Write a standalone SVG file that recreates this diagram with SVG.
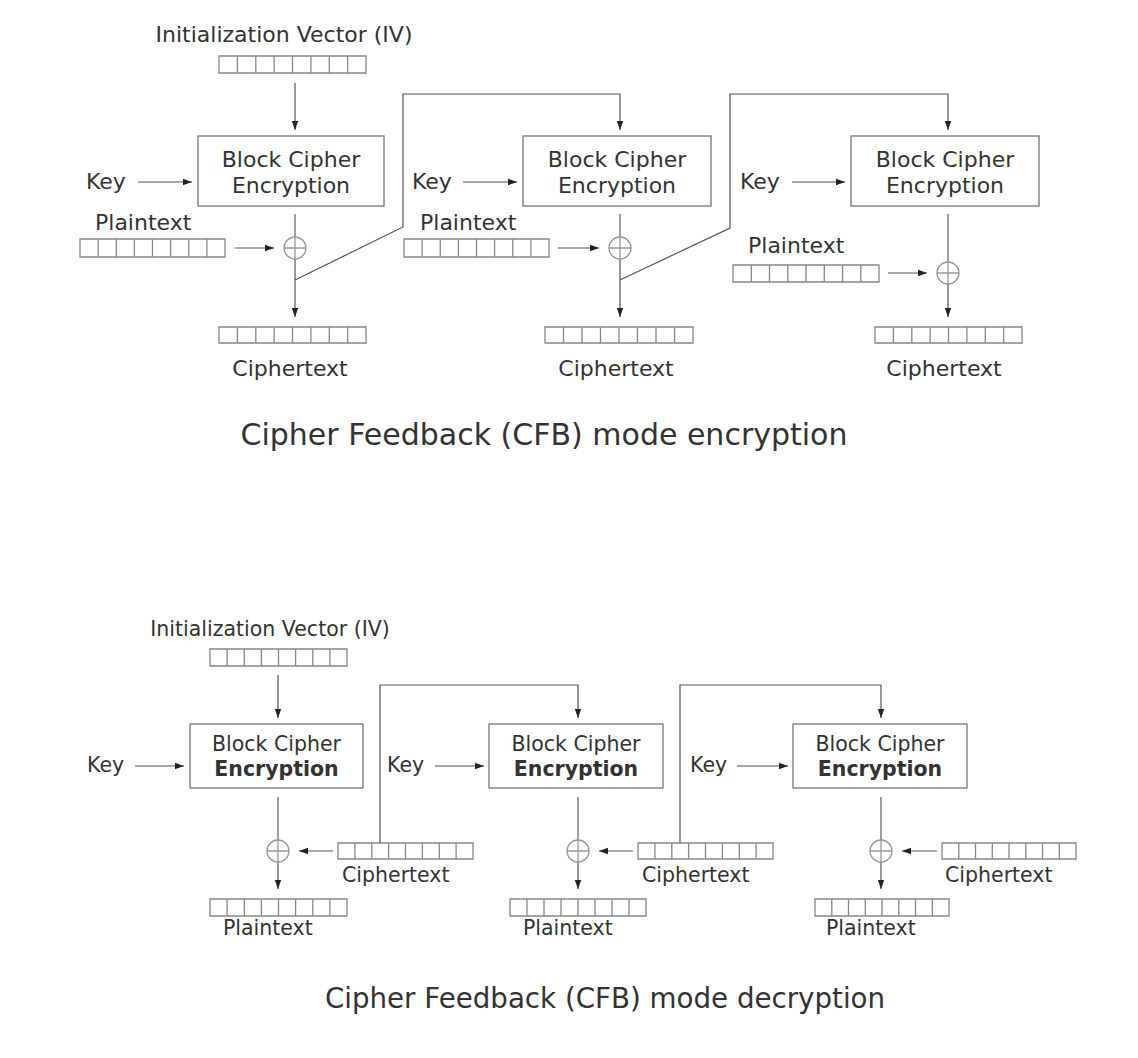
<svg xmlns="http://www.w3.org/2000/svg" width="1138" height="1058" viewBox="0 0 1138 1058">
<style>
text{font-family:"DejaVu Sans","Liberation Sans",sans-serif;fill:#333}
.l{font-size:22px}
.ld{font-size:20.5px}
.c{text-anchor:middle}
.b{font-weight:bold}
.box{fill:#fff;stroke:#888;stroke-width:1.5}
.cells{fill:#fff;stroke:#888;stroke-width:1.3}
.ln{fill:none;stroke:#777;stroke-width:1.4}
.ar{fill:none;stroke:#555;stroke-width:1.2;marker-end:url(#ah)}
.x{fill:#fff;stroke:#999;stroke-width:1.3}
</style>
<defs>
<marker id="ah" markerUnits="userSpaceOnUse" markerWidth="10" markerHeight="8" refX="9" refY="4" orient="auto">
<path d="M0,0.8 L9,4 L0,7.2 Z" fill="#222"/>
</marker>
</defs>
<rect width="1138" height="1058" fill="#fff"/>

<!-- ENCRYPTION -->
<g id="enc-iv">
<text class="l c" x="284" y="42">Initialization Vector (IV)</text>
<path class="cells" d="M219 56h147v17h-147z M237.4 56v17 M255.8 56v17 M274.1 56v17 M292.5 56v17 M310.9 56v17 M329.3 56v17 M347.6 56v17"/>
</g>
<g id="enc-box1">
<rect class="box" x="198" y="136" width="186" height="70"/>
<text class="l c" x="291" y="167">Block Cipher</text>
<text class="l c" x="291" y="193">Encryption</text>
</g>
<g id="enc-box2">
<rect class="box" x="523" y="136" width="188" height="70"/>
<text class="l c" x="617" y="167">Block Cipher</text>
<text class="l c" x="617" y="193">Encryption</text>
</g>
<g id="enc-box3">
<rect class="box" x="851" y="136" width="188" height="70"/>
<text class="l c" x="945" y="167">Block Cipher</text>
<text class="l c" x="945" y="193">Encryption</text>
</g>
<g id="enc-key1"><text class="l" x="86" y="189">Key</text></g>
<g id="enc-key2"><text class="l" x="412" y="189">Key</text></g>
<g id="enc-key3"><text class="l" x="740" y="189">Key</text></g>
<g id="enc-pt1">
<text class="l" x="95" y="230">Plaintext</text>
<path class="cells" d="M80 239h145v18h-145z M98.1 239v18 M116.3 239v18 M134.4 239v18 M152.5 239v18 M170.6 239v18 M188.8 239v18 M206.9 239v18"/>
</g>
<g id="enc-pt2">
<text class="l" x="420" y="230">Plaintext</text>
<path class="cells" d="M404 239h145v18h-145z M422.1 239v18 M440.3 239v18 M458.4 239v18 M476.5 239v18 M494.6 239v18 M512.8 239v18 M530.9 239v18"/>
</g>
<g id="enc-pt3">
<text class="l" x="748" y="253">Plaintext</text>
<path class="cells" d="M733 265h146v17h-146z M751.3 265v17 M769.5 265v17 M787.8 265v17 M806 265v17 M824.3 265v17 M842.5 265v17 M860.8 265v17"/>
</g>
<g id="enc-ct1">
<path class="cells" d="M219 327h147v16h-147z M237.4 327v16 M255.8 327v16 M274.1 327v16 M292.5 327v16 M310.9 327v16 M329.3 327v16 M347.6 327v16"/>
<text class="l c" x="290" y="376">Ciphertext</text>
</g>
<g id="enc-ct2">
<path class="cells" d="M545 327h148v16h-148z M563.5 327v16 M582 327v16 M600.5 327v16 M619 327v16 M637.5 327v16 M656 327v16 M674.5 327v16"/>
<text class="l c" x="616" y="376">Ciphertext</text>
</g>
<g id="enc-ct3">
<path class="cells" d="M875 327h147v16h-147z M893.4 327v16 M911.8 327v16 M930.1 327v16 M948.5 327v16 M966.9 327v16 M985.3 327v16 M1003.6 327v16"/>
<text class="l c" x="944" y="376">Ciphertext</text>
</g>
<g id="enc-title"><text class="c" x="544" y="445" font-size="30">Cipher Feedback (CFB) mode encryption</text></g>

<g id="enc-connectors">
<path class="ar" d="M295 83V130"/>
<path class="ar" d="M138 182H192"/>
<path class="ar" d="M463 182H517"/>
<path class="ar" d="M792 182H845"/>
<path class="ln" d="M295 214V237 M620 214V237 M948 214V262"/>
<path class="ar" d="M235 248H274"/>
<path class="ar" d="M558 248H599"/>
<path class="ar" d="M888 273H927"/>
<path class="ar" d="M295 259V317"/>
<path class="ar" d="M620 259V317"/>
<path class="ar" d="M948 284V317"/>
<path class="ar" d="M295 280L403 227V94H620V130"/>
<path class="ar" d="M620 280L730 228V94H948V130"/>
</g>
<g id="enc-xor1"><circle class="x" cx="295" cy="248" r="11"/><path class="x" d="M284 248h22M295 237v22"/></g>
<g id="enc-xor2"><circle class="x" cx="620" cy="248" r="11"/><path class="x" d="M609 248h22M620 237v22"/></g>
<g id="enc-xor3"><circle class="x" cx="948" cy="273" r="11"/><path class="x" d="M937 273h22M948 262v22"/></g>

<!-- DECRYPTION -->
<g id="dec-iv">
<text class="ld c" x="270" y="636">Initialization Vector (IV)</text>
<path class="cells" d="M210 649h137v17h-137z M227.1 649v17 M244.3 649v17 M261.4 649v17 M278.5 649v17 M295.6 649v17 M312.8 649v17 M329.9 649v17"/>
</g>
<g id="dec-box1">
<rect class="box" x="190" y="724" width="173" height="64"/>
<text class="ld c" x="276.5" y="751">Block Cipher</text>
<text class="ld c b" x="276.5" y="776">Encryption</text>
</g>
<g id="dec-box2">
<rect class="box" x="489" y="724" width="174" height="64"/>
<text class="ld c" x="576" y="751">Block Cipher</text>
<text class="ld c b" x="576" y="776">Encryption</text>
</g>
<g id="dec-box3">
<rect class="box" x="793" y="724" width="174" height="64"/>
<text class="ld c" x="880" y="751">Block Cipher</text>
<text class="ld c b" x="880" y="776">Encryption</text>
</g>
<g id="dec-key1"><text class="ld" x="87" y="772">Key</text></g>
<g id="dec-key2"><text class="ld" x="387" y="772">Key</text></g>
<g id="dec-key3"><text class="ld" x="690" y="772">Key</text></g>
<g id="dec-ct1">
<path class="cells" d="M338 843h135v16h-135z M354.9 843v16 M371.8 843v16 M388.6 843v16 M405.5 843v16 M422.4 843v16 M439.3 843v16 M456.1 843v16"/>
<text class="ld" x="342" y="882">Ciphertext</text>
</g>
<g id="dec-ct2">
<path class="cells" d="M638 843h135v16h-135z M654.9 843v16 M671.8 843v16 M688.6 843v16 M705.5 843v16 M722.4 843v16 M739.3 843v16 M756.1 843v16"/>
<text class="ld" x="642" y="882">Ciphertext</text>
</g>
<g id="dec-ct3">
<path class="cells" d="M942 843h134v16h-134z M958.8 843v16 M975.5 843v16 M992.3 843v16 M1009 843v16 M1025.8 843v16 M1042.5 843v16 M1059.3 843v16"/>
<text class="ld" x="945" y="882">Ciphertext</text>
</g>
<g id="dec-pt1">
<path class="cells" d="M210 899h137v17h-137z M227.1 899v17 M244.3 899v17 M261.4 899v17 M278.5 899v17 M295.6 899v17 M312.8 899v17 M329.9 899v17"/>
<text class="ld" x="223" y="935">Plaintext</text>
</g>
<g id="dec-pt2">
<path class="cells" d="M510 899h136v17h-136z M527 899v17 M544 899v17 M561 899v17 M578 899v17 M595 899v17 M612 899v17 M629 899v17"/>
<text class="ld" x="523" y="935">Plaintext</text>
</g>
<g id="dec-pt3">
<path class="cells" d="M815 899h134v17h-134z M831.8 899v17 M848.5 899v17 M865.3 899v17 M882 899v17 M898.8 899v17 M915.5 899v17 M932.3 899v17"/>
<text class="ld" x="826" y="935">Plaintext</text>
</g>
<g id="dec-title"><text class="c" x="605" y="1008" font-size="27.7">Cipher Feedback (CFB) mode decryption</text></g>

<g id="dec-connectors">
<path class="ar" d="M278 675V718"/>
<path class="ar" d="M135 766H184"/>
<path class="ar" d="M435 766H484"/>
<path class="ar" d="M737 766H788"/>
<path class="ln" d="M278 797V840 M578 797V840 M881 797V840"/>
<path class="ar" d="M278 862V889"/>
<path class="ar" d="M578 862V889"/>
<path class="ar" d="M881 862V889"/>
<path class="ar" d="M333 851H299"/>
<path class="ar" d="M633 851H599"/>
<path class="ar" d="M937 851H902"/>
<path class="ar" d="M380 843V685H578V718"/>
<path class="ar" d="M680 843V685H881V718"/>
</g>
<g id="dec-xor1"><circle class="x" cx="278" cy="851" r="11"/><path class="x" d="M267 851h22M278 840v22"/></g>
<g id="dec-xor2"><circle class="x" cx="578" cy="851" r="11"/><path class="x" d="M567 851h22M578 840v22"/></g>
<g id="dec-xor3"><circle class="x" cx="881" cy="851" r="11"/><path class="x" d="M870 851h22M881 840v22"/></g>
</svg>
